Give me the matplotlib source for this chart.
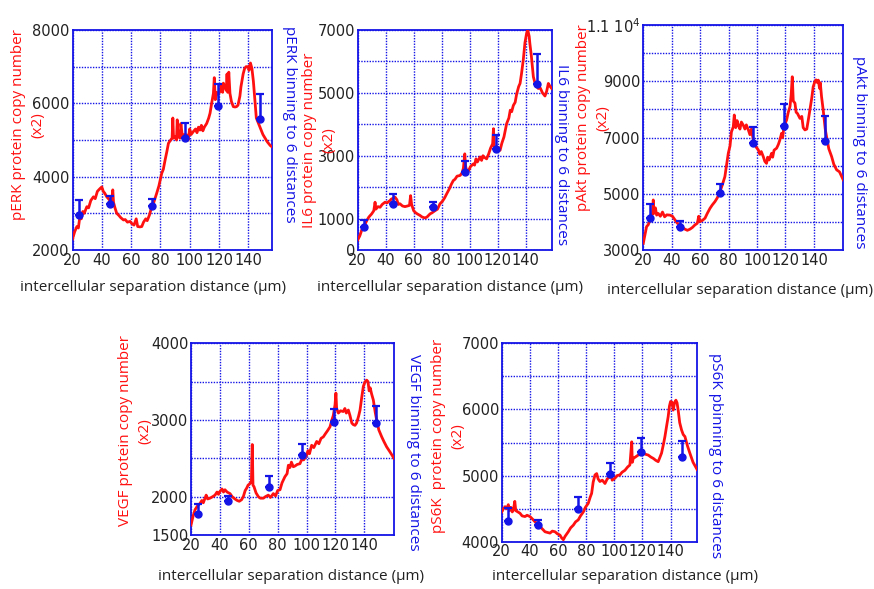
import numpy as np
import matplotlib
matplotlib.use("Agg")
import matplotlib.pyplot as plt

# ---- data ----
bin_x = [24.5, 45.5, 74.0, 97.0, 119.0, 148.0]

perk_x = [20, 21.5, 23, 24, 25, 26, 27, 28, 29.8, 31, 32.5, 34.3, 35.5, 37, 38.9, 40, 41, 42, 43.4, 44.5,
          45.5, 46.8, 47.5, 48, 49, 50.2, 51.5, 53, 54.8, 56, 57.5, 59.3, 60.5, 62, 63.5, 64.5, 66, 67.3,
          68.5, 70, 71, 72.5, 74.1, 75.5, 77.5, 79, 80.9, 82, 83.2, 84.5, 85.5, 87, 88, 88.5, 89, 90, 91,
          91.5, 92, 93.4, 94, 95, 96.5, 97.9, 99, 100, 101, 102.5, 104, 105, 106, 107, 108, 109, 110,
          111.6, 113, 113.9, 115, 116.2, 116.8, 117.5, 118.5, 119.5, 120.7, 121.5, 122.5, 123, 124.1,
          125, 125.5, 126, 126.7, 127.5, 128.5, 129.8, 131, 132, 133, 134.3, 135, 136.5, 137.5, 138.5,
          140, 140.5, 141.5, 142.5, 143.5, 144.5, 145.5, 147, 148.5, 150, 151.5, 153, 154, 155, 156]
perk_y = [2300, 2500, 2640, 2600, 2900, 2850, 3050, 3000, 3180, 3150, 3350, 3450, 3400, 3600, 3680, 3720,
          3600, 3550, 3450, 3400, 3350, 3360, 3640, 3300, 3150, 3000, 2950, 2880, 2820, 2830, 2760, 2780,
          2720, 2680, 2850, 2640, 2630, 2640, 2760, 2850, 2800, 2950, 3180, 3300, 3550, 3750, 4090, 4200,
          4450, 4700, 4910, 5000, 5050, 5600, 5050, 5100, 5000, 5550, 5100, 5050, 5450, 5100, 5150, 5140,
          5000, 5300, 5150, 5230, 5300, 5200, 5350, 5270, 5400, 5250, 5350, 5450, 5600, 5730, 6000, 6270,
          6700, 6100, 6300, 6250, 6320, 6500, 6300, 6550, 6450, 6350, 6800, 6300, 6850, 6270, 6050, 5910,
          5900, 5910, 5950, 6200, 6450, 6800, 6950, 7000, 7000, 6900, 7100, 6950, 6600, 6100, 5600, 5450,
          5300, 5150, 5050, 4950, 4900, 4850, 4820]
perk_bin = [2955, 3264, 3209, 5064, 5936, 5564]
perk_err = [410, 220, 180, 410, 590, 690]

il6_x = [20, 21.5, 23, 24.5, 26.4, 28, 30, 31.5, 32.4, 33, 34.5, 36, 37.5, 39.5, 41, 43, 44, 45.5, 46.7,
         48, 49, 50.2, 52, 53.8, 55.5, 57, 57.8, 58.5, 60, 61, 62.5, 64.5, 66, 68.1, 69.5, 71.7, 73,
         75.2, 77, 78.8, 80.5, 82, 83.6, 85.5, 87, 88.3, 89.5, 91, 93.1, 94.5, 95.5, 96.5, 97, 97.9, 99,
         100.5, 102.6, 103.5, 104.5, 105.5, 107.4, 108.5, 109.5, 110.5, 112.1, 113.5, 115, 116.4, 117,
         117.5, 119, 121.7, 123, 124.5, 126.4, 128, 129, 130, 131.2, 132.5, 133.5, 135, 136, 137, 138.3,
         139.5, 140.7, 141.5, 142.5, 143, 144, 145.5, 147, 149, 150.5, 152, 153.8, 155, 156.2, 157.5, 158.6]
il6_y = [320, 450, 650, 750, 930, 1050, 1150, 1250, 1520, 1300, 1380, 1360, 1450, 1520, 1500, 1570, 1620,
         1650, 1680, 1600, 1450, 1470, 1400, 1380, 1400, 1420, 1730, 1450, 1250, 1200, 1150, 1100, 1050,
         1020, 1050, 1150, 1180, 1250, 1300, 1470, 1550, 1650, 1790, 1950, 2100, 2210, 2250, 2350, 2370,
         2450, 2600, 3060, 2700, 2480, 2500, 2650, 2740, 2700, 2900, 2800, 2960, 2850, 3000, 2950, 2900,
         3050, 3250, 3380, 3860, 3300, 3200, 3170, 3400, 3600, 4020, 4200, 4450, 4400, 4600, 4700, 4950,
         5200, 5300, 5600, 6050, 6600, 6900, 7000, 6800, 6570, 6200, 5510, 5250, 5140, 5150, 5000, 4900,
         5050, 5300, 5200, 5140]
il6_bin = [723, 1479, 1362, 2479, 3202, 5277]
il6_err = [245, 290, 150, 350, 470, 950]

pakt_x = [20, 21, 22.3, 23.5, 24.7, 25.5, 26.5, 27, 27.5, 28.5, 29.4, 30.5, 32, 33.5, 35, 36.5, 38.8, 40.5,
          42.3, 44, 45.8, 47.5, 49.3, 51, 52.8, 54.5, 56.3, 58, 59, 59.9, 61.5, 63.4, 65, 66.9, 68.5, 70.4,
          72, 73.9, 75.5, 77.4, 78.5, 79.8, 81, 82, 83.3, 84, 85, 86, 86.8, 88, 89, 90.3, 91.5, 92.5, 93.9,
          95, 96, 97.4, 98.5, 99.5, 100.9, 102, 103, 104.4, 105.5, 106.7, 107.5, 108.5, 110.3, 111, 112,
          113.8, 115, 116, 117.3, 118, 119, 120.8, 122, 123.2, 124, 124.8, 125.5, 126.7, 127.5, 128.5,
          130.2, 131.5, 132.5, 133.7, 135, 136, 137.2, 138.5, 139.5, 140.7, 141.5, 142.5, 143.1, 144,
          144.5, 145.4, 146.5, 148, 148.9, 150.5, 152.5, 154, 156, 158, 160.7]
pakt_y = [3240, 3500, 3830, 3900, 4070, 4150, 4300, 4780, 4300, 4500, 4240, 4300, 4200, 4350, 4180, 4250,
          4240, 4200, 4070, 3950, 3890, 3800, 3740, 3700, 3740, 3800, 3890, 3950, 4200, 4010, 4050, 4130,
          4300, 4480, 4600, 4720, 4850, 5070, 5300, 5610, 6000, 6440, 6700, 7200, 7380, 7800, 7350, 7600,
          7440, 7300, 7550, 7440, 7300, 7450, 7270, 7100, 7300, 6910, 6800, 6650, 6560, 6400, 6500, 6320,
          6150, 6080, 6300, 6200, 6440, 6300, 6550, 6620, 6750, 6900, 7150, 7000, 7400, 7620, 7900, 8100,
          8500, 9160, 8300, 8220, 7900, 7850, 7680, 7750, 7350, 7270, 7300, 7600, 7980, 8400, 8800, 8990,
          9050, 8950, 9040, 8750, 8950, 8450, 8000, 7300, 7030, 6600, 6320, 6050, 5850, 5780, 5490]
pakt_bin = [4150, 3830, 5015, 6793, 7421, 6876]
pakt_err = [470, 210, 320, 590, 760, 900]

vegf_x = [20, 21.5, 22.8, 24.5, 26.2, 27.5, 28.5, 29.7, 30.5, 31.5, 33.1, 35, 36.6, 38, 39, 40.1, 41.5,
          42.5, 43.5, 45, 47, 48.5, 50.4, 52, 53.4, 55, 56.2, 57.5, 58.5, 59.5, 60.8, 61.8, 62.4, 62.9,
          63.6, 65, 66.6, 68, 70.1, 71.5, 73.5, 75, 77, 78.5, 80, 81.6, 83, 85, 86.5, 87.4, 88.5, 89.5,
          90.8, 92, 93.5, 95.4, 96.5, 98, 100, 101, 102, 103.5, 105, 107, 108.5, 110, 111.6, 113, 114.5,
          116.2, 117.5, 118.5, 119.7, 120.3, 120.8, 122, 123.5, 125.4, 126.5, 127.5, 128.9, 130, 131.3,
          132.3, 133.5, 134.6, 136, 137, 138.2, 139.3, 140.5, 141.6, 142.5, 143.3, 144, 145, 146.2,
          147.5, 148.5, 150, 152, 153.5, 155.4, 157.5, 160.5]
vegf_y = [1630, 1750, 1830, 1880, 1910, 1950, 1920, 1980, 2020, 1970, 1980, 2000, 2020, 2060, 2030, 2070,
          2100, 2060, 2090, 2060, 2040, 2000, 1970, 1950, 1940, 1960, 2000, 2080, 2110, 2150, 2170, 2200,
          2680, 2150, 2130, 2050, 2000, 1980, 1980, 2000, 2020, 1990, 2040, 2010, 2080, 2090, 2180, 2260,
          2300, 2410, 2380, 2450, 2390, 2400, 2420, 2430, 2480, 2480, 2540, 2600, 2560, 2670, 2640, 2720,
          2690, 2760, 2780, 2820, 2860, 2910, 3000, 3060, 3200, 3350, 3150, 3090, 3120, 3110, 3150, 3090,
          3130, 3060, 2960, 2940, 2930, 2960, 3050, 3130, 3300, 3440, 3500, 3520, 3500, 3380, 3420, 3340,
          3260, 3100, 3000, 2870, 2780, 2720, 2650, 2590, 2500]
vegf_bin = [1774, 1943, 2130, 2543, 2970, 2965]
vegf_err = [130, 70, 144, 144, 170, 218]

ps6k_x = [20, 21, 22.4, 23.5, 24.7, 25.5, 26.5, 27.5, 28.3, 29.3, 30, 31.5, 33, 34.5, 36.6, 38, 40.1, 42,
          43.7, 45.5, 47.2, 49, 50.8, 52.5, 54.3, 56, 57.9, 59.5, 61.4, 62.5, 63.8, 65, 67.3, 69, 70.9,
          72.5, 74.4, 76, 78, 79.5, 81.5, 83, 83.9, 85, 86.3, 87.5, 88.5, 89.8, 91.5, 93.4, 95, 96.9, 97.5,
          98.5, 100.5, 102, 104, 105.5, 107.6, 109.5, 111.1, 112.4, 112.8, 113.5, 115, 117, 119, 120.6,
          122.5, 124.1, 126, 127.7, 129.5, 131.2, 132.5, 133.6, 135, 136, 137.2, 138.3, 139.2, 140, 141,
          141.9, 142.8, 143.8, 144.6, 145.4, 146.5, 147.8, 149, 150.2, 152, 153.7, 156, 158.9]
ps6k_y = [4450, 4490, 4530, 4500, 4560, 4470, 4520, 4450, 4480, 4610, 4470, 4450, 4430, 4390, 4380, 4400,
          4380, 4340, 4300, 4270, 4230, 4190, 4150, 4140, 4130, 4160, 4150, 4120, 4100, 4060, 4030, 4080,
          4150, 4210, 4250, 4300, 4330, 4390, 4450, 4520, 4580, 4680, 4730, 4900, 5010, 5030, 4950, 4910,
          4930, 4880, 4950, 4980, 5050, 4930, 4960, 5000, 5010, 5050, 5080, 5130, 5160, 5510, 5200, 5260,
          5280, 5310, 5330, 5340, 5320, 5310, 5280, 5260, 5230, 5210, 5280, 5340, 5480, 5590, 5750, 5890,
          6050, 6120, 6110, 5990, 6100, 6140, 6100, 5990, 5800, 5690, 5620, 5590, 5450, 5340, 5200, 5090]
ps6k_bin = [4313, 4252, 4489, 5018, 5361, 5276]
ps6k_err = [190, 76, 192, 177, 212, 252]

x_ticks = [20, 40, 60, 80, 100, 120, 140]

RED = "#ff1010"
BLUE = "#1414e6"
W, H = 874, 589


def px(x, y):
    return x / W, 1 - y / H


def box(l, t, r, b):
    return [l / W, 1 - b / H, (r - l) / W, (b - t) / H]


panels = [
    dict(x=perk_x, y=perk_y, b=perk_bin, e=perk_err, rect=box(72.5, 30, 271.7, 250), xmax=156,
         ylim=(2000, 8000), grid=1000, ticks=[2000, 4000, 6000, 8000],
         left="pERK protein copy number\n(x2)", lpos=(28, 125),
         right="pERK binning to 6 distances", rpos=(289, 124), xl=(153, 288)),
    dict(x=il6_x, y=il6_y, b=il6_bin, e=il6_err, rect=box(357.7, 30, 551.7, 250), xmax=158.6,
         ylim=(0, 7000), grid=1000, ticks=[0, 1000, 3000, 5000, 7000],
         left="IL6 protein copy number\n(x2)", lpos=(319, 140),
         right="IL6 binning to 6 distances", rpos=(562, 155), xl=(450, 288)),
    dict(x=pakt_x, y=pakt_y, b=pakt_bin, e=pakt_err, rect=box(643.3, 25, 843.3, 250), xmax=160.7,
         ylim=(3000, 11000), grid=1000, ticks=[3000, 5000, 7000, 9000, 11000],
         left="pAkt protein copy number\n(x2)", lpos=(593, 118),
         right="pAkt binning to 6 distances", rpos=(860, 152), xl=(740, 290)),
    dict(x=vegf_x, y=vegf_y, b=vegf_bin, e=vegf_err, rect=box(191, 343.3, 394, 535), xmax=160.5,
         ylim=(1500, 4000), grid=500, ticks=[1500, 2000, 3000, 4000],
         left="VEGF protein copy number\n(x2)", lpos=(135, 431),
         right="VEGF binning to 6 distances", rpos=(413, 452), xl=(291, 577)),
    dict(x=ps6k_x, y=ps6k_y, b=ps6k_bin, e=ps6k_err, rect=box(501.7, 343.3, 697.3, 541.7), xmax=159,
         ylim=(4000, 7000), grid=500, ticks=[4000, 5000, 6000, 7000],
         left="pS6K  protein copy number\n(x2)", lpos=(448, 436),
         right="pS6K pbinning to 6 distances", rpos=(715, 456), xl=(625, 577)),
]

fig = plt.figure(figsize=(W / 100, H / 100), dpi=100)
label_font = "Open Sans"

for i, p in enumerate(panels):
    ax = fig.add_axes(p["rect"])
    ax.plot(p["x"], p["y"], color=RED, lw=2.0, zorder=3)
    ax.errorbar(bin_x, p["b"], yerr=[np.zeros(len(p["e"])), p["e"]], fmt="o", ms=5,
                color=BLUE, ecolor=BLUE, elinewidth=1.8, capsize=3, capthick=1.6, zorder=4)
    ax.set_xlim(20, p["xmax"])
    ax.set_ylim(*p["ylim"])
    ax.set_xticks(x_ticks)
    ax.set_xticklabels([str(t) for t in x_ticks])
    ax.set_yticks(np.arange(p["ylim"][0], p["ylim"][1] + 1, p["grid"]), minor=True)
    ax.set_yticks(p["ticks"])
    labels = [str(t) for t in p["ticks"]]
    if p["ticks"][-1] == 11000:
        labels[-1] = r"1.1 10$^{4}$"
    ax.set_yticklabels(labels)
    ax.grid(True, which="both", color=BLUE, ls=(0, (1, 1)), lw=1.0)
    ax.tick_params(which="both", length=0, labelsize=10.5, pad=2, labelcolor="#222222")
    for s in ax.spines.values():
        s.set_color(BLUE)
        s.set_linewidth(1.3)
    fig.text(*px(*p["lpos"]), p["left"], color=RED, rotation=90, ha="center", va="center",
             fontsize=11, family=label_font, linespacing=1.45)
    fig.text(*px(*p["rpos"]), p["right"], color=BLUE, rotation=-90, ha="center", va="center",
             fontsize=11, family=label_font)
    fig.text(*px(*p["xl"]), "intercellular separation distance (\u00b5m)", ha="center", va="center",
             fontsize=11, family=label_font, color="#222222")

fig.savefig("out.png", dpi=100)
